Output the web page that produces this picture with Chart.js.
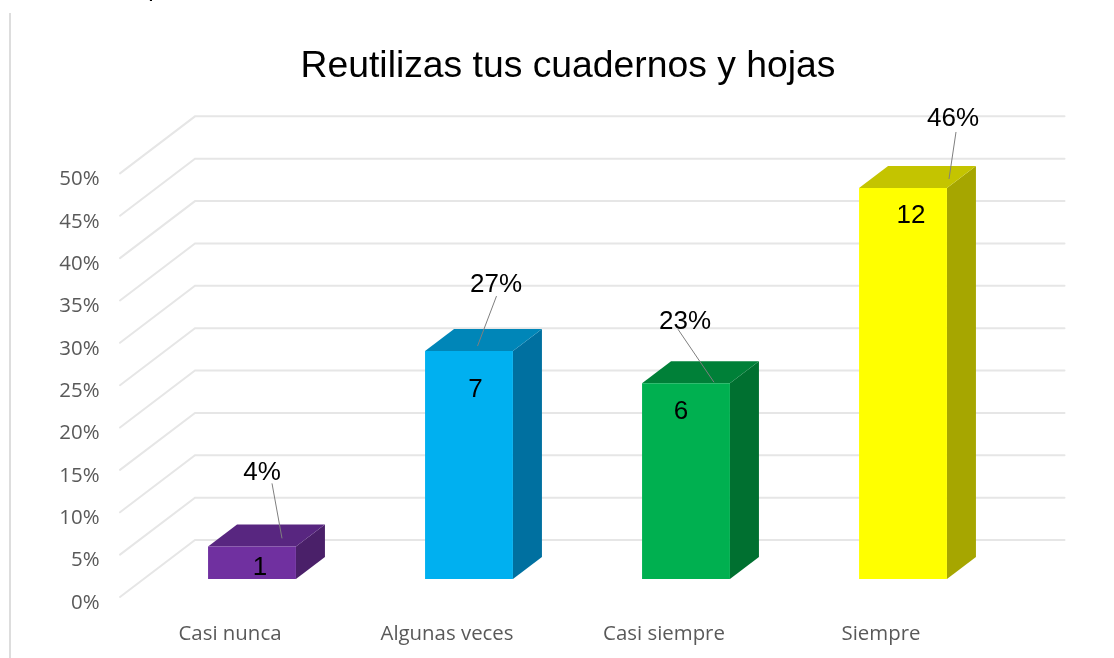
<!DOCTYPE html>
<html>
<head>
<meta charset="utf-8">
<style>
html,body{margin:0;padding:0;background:#fff;overflow:hidden;width:1114px;height:658px}
canvas{display:block}
</style>
<script src="https://cdn.jsdelivr.net/npm/chart.js@4"></script>
</head>
<body>
<canvas id="c" width="1114" height="658" style="width:1114px;height:658px"></canvas>
<script>
const titleText = "Reutilizas tus cuadernos y hojas";
const categories = ["Casi nunca", "Algunas veces", "Casi siempre", "Siempre"];
const percentValues = [3.85, 26.9, 23.1, 46.15];
const percentLabels = ["4%", "27%", "23%", "46%"];
const countLabels = ["1", "7", "6", "12"];
const frontColors = ["#7030A0", "#00B0F0", "#00B050", "#FFFF00"];
const topColors = ["#582680", "#0086B8", "#008038", "#C4C400"];
const sideColors = ["#4A2069", "#0070A0", "#007030", "#A6A600"];

// Pseudo-3D depth of the chart box and label placement relative to each bar top
const wallDepth = {dx: 75, dy: -57};
const barShift = {dx: 22, dy: -18};
const barDepth = {dx: 29, dy: -22};
const pctOffsets = [[10,-74],[27,-66],[-1,-61],[50,-69]];
const countOffsets = [[8,21],[6.5,39],[-5,29],[8,28]];
const leaderOffsets = [[20,-63,30,-8],[27.5,-55,8.5,-5],[-8,-54,28,-1],[53,-56,46,-9]];

const scene = {
  id: "scene",
  afterLayout(chart) {
    // the title is centred on the picture's own plot box, not the whole canvas
    chart.titleBlock.left = 22;
    chart.titleBlock.right = 1114;
  },
  beforeDatasetsDraw(chart) {
    const {ctx, scales} = chart;
    const y = scales.y, x = scales.x;
    ctx.save();
    // stray page furniture around the picture
    ctx.strokeStyle = "#DDDDDD"; ctx.lineWidth = 2;
    ctx.beginPath(); ctx.moveTo(10, 13); ctx.lineTo(10, 658); ctx.stroke();
    ctx.fillStyle = "#000"; ctx.font = "24px 'Liberation Sans'";
    ctx.textAlign = "center"; ctx.textBaseline = "alphabetic";
    ctx.fillText("p", 155, -4);
    // wall grid
    ctx.lineCap = "round";
    y.ticks.forEach((t, i) => {
      const py = y.getPixelForTick(i);
      ctx.strokeStyle = "#E6E6E6"; ctx.lineWidth = 2;
      ctx.beginPath();
      ctx.moveTo(x.left - 1.5, py);
      ctx.lineTo(x.left - 1.5 + wallDepth.dx, py + wallDepth.dy);
      ctx.lineTo(x.right + wallDepth.dx, py + wallDepth.dy);
      ctx.stroke();
    });
    ctx.restore();
    // side and top faces of bars
    ctx.save();
    ctx.translate(barShift.dx, barShift.dy);
    chart.getDatasetMeta(0).data.forEach((el, i) => {
      const l = el.x - el.width / 2, r = el.x + el.width / 2, t = el.y, b = el.base;
      const {dx, dy} = barDepth;
      ctx.fillStyle = sideColors[i];
      ctx.beginPath();
      ctx.moveTo(r, t); ctx.lineTo(r + dx, t + dy); ctx.lineTo(r + dx, b + dy); ctx.lineTo(r, b);
      ctx.closePath(); ctx.fill();
      ctx.fillStyle = topColors[i];
      ctx.beginPath();
      ctx.moveTo(l, t); ctx.lineTo(l + dx, t + dy); ctx.lineTo(r + dx, t + dy); ctx.lineTo(r, t);
      ctx.closePath(); ctx.fill();
    });
    ctx.restore();
  },
  beforeDatasetDraw(chart) {
    chart.ctx.save();
    chart.ctx.translate(barShift.dx, barShift.dy);
  },
  afterDatasetDraw(chart) {
    chart.ctx.restore();
  },
  afterDatasetsDraw(chart) {
    const {ctx} = chart;
    ctx.save();
    ctx.translate(barShift.dx, barShift.dy);
    chart.getDatasetMeta(0).data.forEach((el, i) => {
      const cx = el.x, t = el.y;
      const lo = leaderOffsets[i];
      ctx.strokeStyle = "#7F7F7F"; ctx.lineWidth = 1;
      ctx.beginPath();
      ctx.moveTo(cx + lo[0], t + lo[1]);
      ctx.lineTo(cx + lo[2], t + lo[3]);
      ctx.stroke();
      ctx.fillStyle = "#000";
      ctx.font = "26px 'Liberation Sans'";
      ctx.textAlign = "center"; ctx.textBaseline = "middle";
      ctx.fillText(percentLabels[i], cx + pctOffsets[i][0], t + pctOffsets[i][1]);
      ctx.fillText(countLabels[i], cx + countOffsets[i][0], t + countOffsets[i][1]);
    });
    ctx.restore();
  }
};

new Chart(document.getElementById("c"), {
  type: "bar",
  data: {
    labels: categories,
    datasets: [{
      data: percentValues,
      backgroundColor: frontColors,
      borderWidth: 0,
      barPercentage: 0.405,
      categoryPercentage: 1
    }]
  },
  options: {
    responsive: false,
    animation: false,
    layout: {padding: {left: 0, right: 124.5, top: 0, bottom: 0}},
    plugins: {
      legend: {display: false},
      tooltip: {enabled: false},
      title: {
        display: true,
        text: titleText,
        color: "#000000",
        font: {family: "'Liberation Sans'", size: 37.3, weight: "normal", lineHeight: 1.2},
        padding: {top: 44.6, bottom: 84.0}
      }
    },
    scales: {
      x: {
        grid: {display: false},
        border: {display: false},
        afterFit(s) { s.height = 61; },
        ticks: {color: "#595959", font: {family: "'Open Sans'", size: 20.4}, padding: 16.5, maxRotation: 0}
      },
      y: {
        min: 0,
        max: 50,
        grid: {display: false},
        border: {display: false},
        afterFit(s) { s.width = 121.5; },
        ticks: {
          stepSize: 5,
          color: "#595959",
          font: {family: "'Open Sans'", size: 20.4},
          padding: 14,
          labelOffset: 6,
          callback: v => v + "%"
        }
      }
    }
  },
  plugins: [scene]
});
</script>
</body>
</html>
